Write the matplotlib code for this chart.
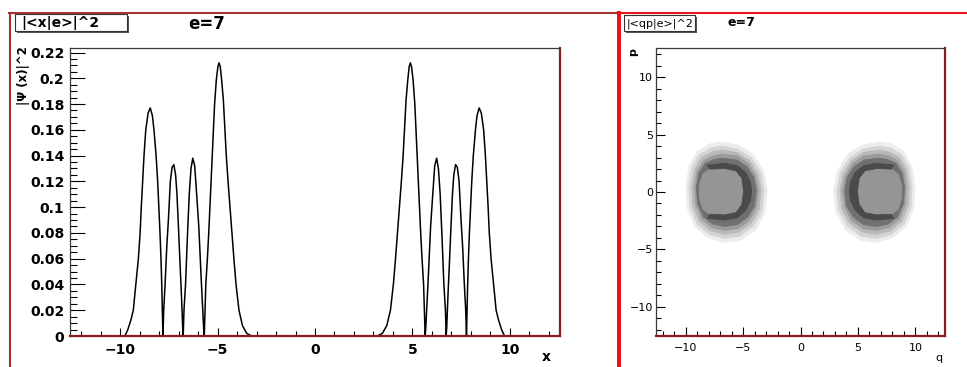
import matplotlib
matplotlib.use('Agg')
import matplotlib.pyplot as plt
import matplotlib.transforms as mtransforms
from matplotlib.patches import Polygon, Rectangle
from matplotlib.lines import Line2D
from matplotlib.ticker import MultipleLocator, FuncFormatter
import numpy as np

W, H = 967, 367
XMAX = 4 * np.pi

# |<x|e>|^2 (x < 0 side and x > 0 side)
x_left = [-9.75, -9.6, -9.45, -9.32, -9.19, -9.06, -8.97, -8.91, -8.84, -8.77, -8.68, -8.56,
          -8.45, -8.34, -8.26, -8.15, -8.07, -8.01, -7.95, -7.9, -7.86, -7.83, -7.8, -7.76,
          -7.69, -7.6, -7.52, -7.42, -7.33, -7.24, -7.15, -7.08, -6.99, -6.92, -6.86, -6.82,
          -6.79, -6.76, -6.72, -6.64, -6.55, -6.45, -6.36, -6.27, -6.17, -6.07, -5.96, -5.87,
          -5.79, -5.74, -5.71, -5.68, -5.65, -5.6, -5.52, -5.45, -5.39, -5.33, -5.27, -5.21,
          -5.15, -5.06, -4.98, -4.92, -4.86, -4.79, -4.7, -4.62, -4.55, -4.46, -4.36, -4.26,
          -4.16, -4.05, -3.9, -3.72, -3.5, -3.25]
y_left = [0.0, 0.005, 0.012, 0.02, 0.04, 0.06, 0.08, 0.10, 0.12, 0.14, 0.16, 0.173,
          0.177, 0.171, 0.16, 0.14, 0.12, 0.10, 0.08, 0.06, 0.04, 0.02, 0.0, 0.02,
          0.04, 0.07, 0.09, 0.12, 0.131, 0.133, 0.125, 0.11, 0.08, 0.055, 0.035, 0.02,
          0.008, 0.0, 0.02, 0.04, 0.075, 0.11, 0.13, 0.138, 0.132, 0.11, 0.085, 0.055,
          0.03, 0.015, 0.006, 0.0, 0.015, 0.04, 0.06, 0.08, 0.10, 0.12, 0.14, 0.16,
          0.18, 0.199, 0.209, 0.212, 0.209, 0.199, 0.183, 0.16, 0.14, 0.12, 0.10, 0.08,
          0.06, 0.04, 0.02, 0.008, 0.002, 0.0]
x_right = [3.2, 3.45, 3.68, 3.87, 4.02, 4.13, 4.23, 4.33, 4.43, 4.52, 4.59, 4.67,
           4.76, 4.83, 4.89, 4.95, 5.03, 5.12, 5.18, 5.24, 5.3, 5.36, 5.42, 5.49,
           5.57, 5.62, 5.65, 5.68, 5.71, 5.76, 5.84, 5.93, 6.04, 6.14, 6.24, 6.33,
           6.42, 6.52, 6.61, 6.69, 6.73, 6.76, 6.79, 6.83, 6.89, 6.96, 7.05, 7.12,
           7.21, 7.3, 7.39, 7.49, 7.57, 7.66, 7.73, 7.77, 7.8, 7.83, 7.87, 7.92,
           7.98, 8.04, 8.12, 8.23, 8.31, 8.42, 8.53, 8.65, 8.74, 8.81, 8.88, 8.94,
           9.03, 9.16, 9.29, 9.42, 9.57, 9.72]
y_right = [0.0, 0.002, 0.008, 0.02, 0.04, 0.06, 0.08, 0.10, 0.12, 0.14, 0.16, 0.183,
           0.199, 0.209, 0.212, 0.209, 0.199, 0.18, 0.16, 0.14, 0.12, 0.10, 0.08, 0.06,
           0.04, 0.015, 0.0, 0.006, 0.015, 0.03, 0.055, 0.085, 0.11, 0.132, 0.138, 0.13,
           0.11, 0.075, 0.04, 0.02, 0.0, 0.008, 0.02, 0.035, 0.055, 0.08, 0.11, 0.125,
           0.133, 0.131, 0.12, 0.09, 0.07, 0.04, 0.02, 0.0, 0.02, 0.04, 0.06, 0.08,
           0.10, 0.12, 0.14, 0.16, 0.171, 0.177, 0.173, 0.16, 0.14, 0.12, 0.10, 0.08,
           0.06, 0.04, 0.02, 0.012, 0.005, 0.0]

# |<qp|e>|^2 contour bands of the q < 0 blob, (q, p) outlines;
# the q > 0 blob is its mirror image
band1 = [(-6.8, 4.35), (-5.4, 4.1), (-4.1, 3.3), (-3.2, 1.8), (-2.88, 0.1), (-3.1, -1.8),
         (-3.9, -3.3), (-5.2, -4.2), (-6.6, -4.4), (-8.0, -4.0), (-9.2, -3.0), (-9.85, -1.4),
         (-9.95, 0.4), (-9.7, 2.2), (-9.0, 3.5), (-7.9, 4.2)]
band2 = [(-6.8, 4.0), (-5.45, 3.75), (-4.3, 3.0), (-3.45, 1.7), (-3.15, 0.1), (-3.35, -1.65),
         (-4.1, -3.0), (-5.3, -3.85), (-6.6, -4.05), (-7.9, -3.7), (-9.0, -2.8), (-9.6, -1.3),
         (-9.7, 0.4), (-9.45, 2.1), (-8.8, 3.25), (-7.8, 3.85)]
band3 = [(-6.8, 3.65), (-5.5, 3.45), (-4.45, 2.75), (-3.7, 1.55), (-3.42, 0.1), (-3.6, -1.5),
         (-4.3, -2.75), (-5.4, -3.5), (-6.6, -3.7), (-7.8, -3.4), (-8.8, -2.55), (-9.35, -1.2),
         (-9.45, 0.4), (-9.2, 1.95), (-8.6, 3.0), (-7.7, 3.5)]
band4 = [(-6.8, 3.3), (-5.5, 3.15), (-4.55, 2.5), (-3.9, 1.4), (-3.65, 0.1), (-3.85, -1.35),
         (-4.45, -2.5), (-5.45, -3.2), (-6.6, -3.35), (-7.7, -3.1), (-8.6, -2.35), (-9.1, -1.1),
         (-9.2, 0.4), (-9.0, 1.8), (-8.4, 2.75), (-7.6, 3.15)]
band5 = [(-6.8, 2.95), (-5.55, 2.8), (-4.65, 2.2), (-4.05, 1.25), (-3.85, 0.1), (-4.0, -1.2),
         (-4.6, -2.2), (-5.5, -2.85), (-6.6, -3.0), (-7.6, -2.8), (-8.45, -2.15), (-8.95, -1.0),
         (-9.05, 0.4), (-8.85, 1.6), (-8.3, 2.5), (-7.5, 2.85)]
core = [(-7.9, 2.0), (-6.6, 2.05), (-5.6, 1.85), (-5.1, 1.2), (-4.95, 0.1), (-5.1, -1.1),
        (-5.6, -1.8), (-6.6, -2.0), (-7.9, -1.95), (-8.5, -1.5), (-8.8, -0.5), (-8.8, 0.6),
        (-8.5, 1.55)]
crescent = [(-8.1, 2.35), (-6.6, 2.5), (-5.5, 2.3), (-4.75, 1.7), (-4.35, 0.85), (-4.25, 0.1),
            (-4.35, -0.75), (-4.75, -1.6), (-5.5, -2.25), (-6.6, -2.45), (-8.1, -2.3),
            (-7.9, -1.95), (-6.6, -2.0), (-5.6, -1.8), (-5.1, -1.1), (-4.95, 0.1),
            (-5.1, 1.2), (-5.6, 1.85), (-6.6, 2.05), (-7.9, 2.0)]
band_colors = ['#ececec', '#d4d4d4', '#b8b8b8', '#9b9b9b', '#707070', '#959595', '#4a4a4a']


def fx(px):
    return px / W


def fy(py):
    return 1 - py / H


def frame(ax):
    for s in ['top', 'left']:
        ax.spines[s].set_color('#3a3a3a')
        ax.spines[s].set_linewidth(0.9)
    for s in ['bottom', 'right']:
        ax.spines[s].set_color('#8b1c1c')
        ax.spines[s].set_linewidth(1.6)


def title_box(fig, x0, y0, x1, y1):
    fig.add_artist(Rectangle((fx(x0 + 2), fy(y1 + 2)), fx(x1 - x0), (y1 - y0) / H,
                             transform=fig.transFigure, facecolor='#555555', edgecolor='none'))
    fig.add_artist(Rectangle((fx(x0), fy(y1)), fx(x1 - x0), (y1 - y0) / H,
                             transform=fig.transFigure, facecolor='white',
                             edgecolor='#333333', lw=0.8))


fig = plt.figure(figsize=(W / 100, H / 100), dpi=100)
fig.patch.set_facecolor('white')

# pad borders
fig.add_artist(Line2D([fx(9), fx(617)], [fy(13), fy(13)], color='#a83232', lw=1.5))
fig.add_artist(Line2D([fx(9.5), fx(9.5)], [fy(13), fy(367)], color='#a83232', lw=1.5))
fig.add_artist(Line2D([fx(617), fx(967)], [fy(13), fy(13)], color='#e8141c', lw=1.5))
fig.add_artist(Line2D([fx(618.5), fx(618.5)], [fy(13), fy(367)], color='#e8141c', lw=2.9))

# ---- left pad: |<x|e>|^2
ax1 = fig.add_axes([fx(70), fy(336), fx(490), 288 / H])
ax1.plot(x_left, y_left, color='black', lw=1.1)
ax1.plot(x_right, y_right, color='black', lw=1.1)
ax1.set_xlim(-XMAX, XMAX)
ax1.set_ylim(0, 0.2235)
ax1.xaxis.set_major_locator(MultipleLocator(5))
ax1.xaxis.set_minor_locator(MultipleLocator(1))
ax1.yaxis.set_major_locator(MultipleLocator(0.02))
ax1.yaxis.set_minor_locator(MultipleLocator(0.005))
ax1.yaxis.set_major_formatter(FuncFormatter(lambda v, p: '%g' % round(v, 3)))
ax1.tick_params(axis='y', which='major', direction='in', length=10.5, width=0.8,
                labelsize=10, pad=4)
ax1.tick_params(axis='y', which='minor', direction='in', length=5, width=0.8)
ax1.tick_params(axis='x', which='major', direction='in', length=6, width=0.8,
                labelsize=10, pad=5)
ax1.tick_params(axis='x', which='minor', direction='in', length=3.5, width=0.8)
for lab in ax1.get_xticklabels() + ax1.get_yticklabels():
    lab.set_fontweight('bold')
frame(ax1)

title_box(fig, 15, 14, 127, 31)
fig.text(fx(21), fy(23), '|<x|e>|^2', fontsize=10, fontweight='bold', ha='left', va='center')
fig.text(fx(188), fy(24), 'e=7', fontsize=12, fontweight='bold', ha='left', va='center')
fig.text(fx(24), fy(46), '|Ψ (x)|^2', fontsize=8.5, fontweight='bold', rotation=90,
         ha='center', va='top')
fig.text(fx(546), fy(357), 'x', fontsize=10, fontweight='bold', ha='center', va='center')

# ---- right pad: |<qp|e>|^2
ax2 = fig.add_axes([fx(656), fy(336), fx(289), 288 / H])
ax2.set_xlim(-XMAX, XMAX)
ax2.set_ylim(-XMAX, XMAX)
mirror = mtransforms.Affine2D().scale(-1, 1) + ax2.transData
bands = [band1, band2, band3, band4, band5, core, crescent]
for pts, col in zip(bands, band_colors):
    ax2.add_patch(Polygon(pts, closed=True, facecolor=col, edgecolor=col, lw=0.6))
    ax2.add_patch(Polygon(pts, closed=True, facecolor=col, edgecolor=col, lw=0.6,
                          transform=mirror))
ax2.xaxis.set_major_locator(MultipleLocator(5))
ax2.xaxis.set_minor_locator(MultipleLocator(1))
ax2.yaxis.set_major_locator(MultipleLocator(5))
ax2.yaxis.set_minor_locator(MultipleLocator(1))
ax2.tick_params(axis='both', which='major', direction='in', length=6.5, width=0.8, labelsize=8)
ax2.tick_params(axis='both', which='minor', direction='in', length=3.5, width=0.8)
ax2.tick_params(axis='y', pad=2)
ax2.tick_params(axis='x', pad=5)
frame(ax2)

title_box(fig, 624, 15, 695, 31)
fig.text(fx(627), fy(23.5), '|<qp|e>|^2', fontsize=8, ha='left', va='center')
fig.text(fx(727), fy(23), 'e=7', fontsize=9, fontweight='bold', ha='left', va='center')
fig.text(fx(939), fy(358), 'q', fontsize=8, ha='center', va='center')
fig.text(fx(633), fy(52), 'p', fontsize=8, fontweight='bold', rotation=90, ha='center', va='center')

fig.savefig('out.png', dpi=100)
